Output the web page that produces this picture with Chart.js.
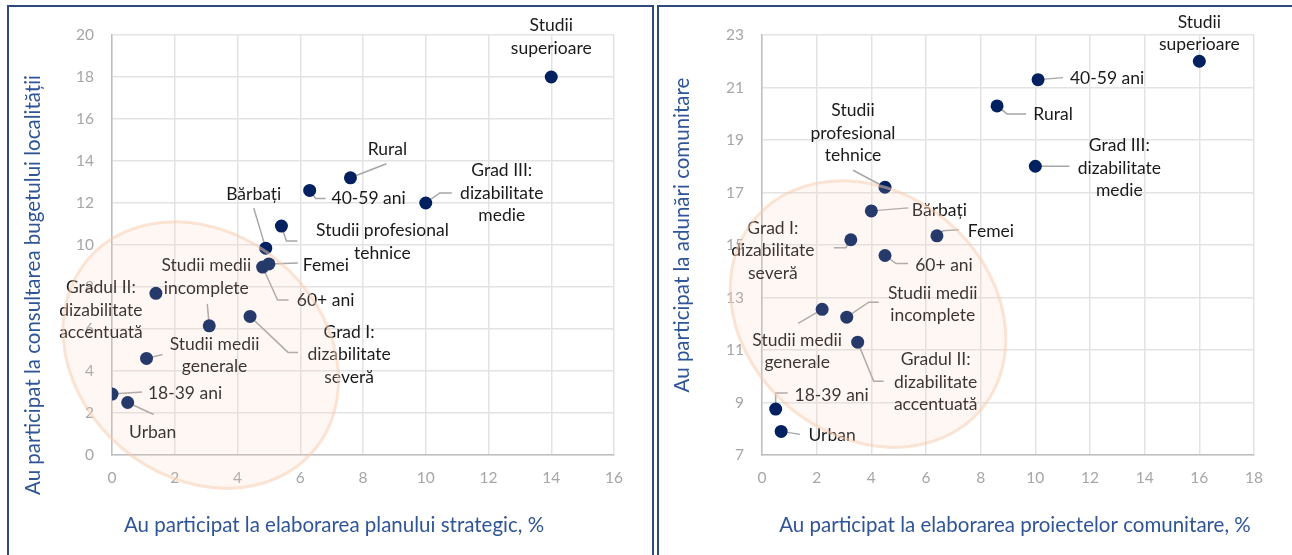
<!DOCTYPE html>
<html>
<head>
<meta charset="utf-8">
<script src="https://cdn.jsdelivr.net/npm/chart.js@4.4.1/dist/chart.umd.min.js"></script>
<style>
  html, body { margin: 0; padding: 0; background: #fff; }
  body { width: 1292px; height: 555px; position: relative; overflow: hidden; }
  .frame { position: absolute; border: 2px solid #2e4a7d; border-bottom: none; }
  #frame-a { left: 7px; top: 5px; width: 643px; height: 560px; }
  #frame-b { left: 657px; top: 5px; width: 660px; height: 560px; }
  canvas { position: absolute; top: 0; }
  #chart-a { left: 0; }
  #chart-b { left: 655px; }
</style>
</head>
<body>
<div class="frame" id="frame-a"></div>
<div class="frame" id="frame-b"></div>
<canvas id="chart-a" width="655" height="555"></canvas>
<canvas id="chart-b" width="637" height="555"></canvas>
<script>
const categories = [
  'Studii superioare', 'Rural', '40-59 ani', 'Grad III: dizabilitate medie',
  'Studii profesional tehnice', 'Bărbați', 'Femei', '60+ ani',
  'Studii medii incomplete', 'Grad I: dizabilitate severă',
  'Gradul II: dizabilitate accentuată', 'Studii medii generale', '18-39 ani', 'Urban'
];

// left chart: plan strategic (x) vs consultarea bugetului (y)
const planStrategic = [14, 7.6, 6.3, 10, 5.4, 4.9, 5.0, 4.8, 3.1, 4.4, 1.4, 1.1, 0, 0.5];
const consultareBuget = [18, 13.2, 12.6, 12, 10.9, 9.85, 9.1, 8.95, 6.15, 6.6, 7.7, 4.6, 2.9, 2.5];

// right chart: proiecte comunitare (x) vs adunări comunitare (y)
const proiecteComunitare = [16, 8.6, 10.1, 10, 4.5, 4.0, 6.4, 4.5, 3.1, 3.25, 3.5, 2.2, 0.5, 0.7];
const adunariComunitare = [22, 20.3, 21.3, 18, 17.2, 16.3, 15.35, 14.6, 12.25, 15.2, 11.3, 12.55, 8.75, 7.9];

const xTicksA = { min: 0, max: 16, step: 2 };
const yTicksA = { min: 0, max: 20, step: 2 };
const xTicksB = { min: 0, max: 18, step: 2 };
const yTicksB = { min: 7, max: 23, step: 2 };

const titlesA = {
  x: 'Au participat la elaborarea planului strategic, %',
  y: 'Au participat la consultarea bugetului localității',
};
const titlesB = {
  x: 'Au participat la elaborarea proiectelor comunitare, %',
  y: 'Au participat la adunări comunitare',
};

// label placement (offsets from the point, px) and leader elbows
const layoutA = [
  { lines: ['Studii', 'superioare'], at: [0, -40], leader: [] },
  { lines: ['Rural'], at: [37, -28], leader: [[36, -14]] },
  { lines: ['40-59 ani'], at: [59, 8], leader: [[6, 8], [16, 8]] },
  { lines: ['Grad III:', 'dizabilitate', 'medie'], at: [76, -10], leader: [[14, -10], [26, -10]] },
  { lines: ['Studii profesional', 'tehnice'], at: [101, 16], leader: [[5, 15], [16, 15]] },
  { lines: ['Bărbați'], at: [-12, -54], leader: [[-12, -40]] },
  { lines: ['Femei'], at: [57, 1], leader: [[29, -1]] },
  { lines: ['60+ ani'], at: [63, 33], leader: [[15, 33], [26, 33]] },
  { lines: ['Studii medii', 'incomplete'], at: [-3, -49], leader: [[-2, -22]] },
  { lines: ['Grad I:', 'dizabilitate', 'severă'], at: [99, 38], leader: [[38, 36], [48, 36]] },
  { lines: ['Gradul II:', 'dizabilitate', 'accentuată'], at: [-55, 17], leader: [] },
  { lines: ['Studii medii', 'generale'], at: [68, -3], leader: [[16, -4]] },
  { lines: ['18-39 ani'], at: [73, -1], leader: [[30, -2]] },
  { lines: ['Urban'], at: [25, 30], leader: [[26, 12]] },
];

const layoutB = [
  { lines: ['Studii', 'superioare'], at: [0, -28], leader: [] },
  { lines: ['Rural'], at: [56, 8], leader: [[10, 8], [29, 8]] },
  { lines: ['40-59 ani'], at: [69, -1], leader: [[25, -2]] },
  { lines: ['Grad III:', 'dizabilitate', 'medie'], at: [84, 2], leader: [[34, 0]] },
  { lines: ['Studii', 'profesional', 'tehnice'], at: [-32, -54], leader: [[-32, -17]] },
  { lines: ['Bărbați'], at: [68, -1], leader: [[37, -3]] },
  { lines: ['Femei'], at: [54, -4], leader: [[6, -5], [22, -6]] },
  { lines: ['60+ ani'], at: [59, 10], leader: [[11, 8], [23, 8]] },
  { lines: ['Studii medii', 'incomplete'], at: [86, -13], leader: [[22, -15], [32, -15]] },
  { lines: ['Grad I:', 'dizabilitate', 'severă'], at: [-78, 11], leader: [[-5, 8], [-17, 8]] },
  { lines: ['Gradul II:', 'dizabilitate', 'accentuată'], at: [78, 40], leader: [[16, 39], [26, 39]] },
  { lines: ['Studii medii', 'generale'], at: [-25, 42], leader: [[-24, 14]] },
  { lines: ['18-39 ani'], at: [56, -14], leader: [[0, -16], [12, -16]] },
  { lines: ['Urban'], at: [51, 4], leader: [[19, 3]] },
];

const FONT = 'Lato, "Open Sans", sans-serif';
const NAVY = '#002060';

function annotations(layout, titles, extra) {
  return {
    id: 'annotations',
    beforeDatasetsDraw(chart) {
      const ctx = chart.ctx;
      const pts = chart.getDatasetMeta(0).data;
      ctx.save();
      ctx.strokeStyle = '#a6a6a6';
      ctx.lineWidth = 1.5;
      layout.forEach((item, i) => {
        if (!item.leader.length) return;
        const p = pts[i];
        ctx.beginPath();
        ctx.moveTo(p.x, p.y);
        item.leader.forEach(([dx, dy]) => ctx.lineTo(p.x + dx, p.y + dy));
        ctx.stroke();
      });
      ctx.restore();
    },
    afterDatasetsDraw(chart) {
      const ctx = chart.ctx;
      const pts = chart.getDatasetMeta(0).data;
      ctx.save();
      ctx.fillStyle = '#1a1a1a';
      ctx.font = '17.5px ' + FONT;
      ctx.textAlign = 'center';
      ctx.textBaseline = 'middle';
      const lh = 22.5;
      layout.forEach((item, i) => {
        const p = pts[i];
        const cx = p.x + item.at[0];
        const cy = p.y + item.at[1];
        const n = item.lines.length;
        item.lines.forEach((line, k) => {
          ctx.fillText(line, cx, cy + (k - (n - 1) / 2) * lh);
        });
      });
      ctx.restore();
    },
    afterDraw(chart) {
      const ctx = chart.ctx;
      const { x, y } = chart.scales;

      // highlighted group
      const ex = x.getPixelForValue(extra.center[0]);
      const ey = y.getPixelForValue(extra.center[1]);
      ctx.save();
      ctx.beginPath();
      ctx.ellipse(ex, ey, 148, 122, 40 * Math.PI / 180, 0, Math.PI * 2);
      ctx.fillStyle = 'rgba(248, 203, 173, 0.15)';
      ctx.fill();
      ctx.strokeStyle = 'rgba(248, 203, 173, 0.5)';
      ctx.lineWidth = 3;
      ctx.stroke();
      ctx.restore();

      // axis titles
      ctx.save();
      ctx.fillStyle = '#2f5597';
      ctx.font = '20.5px ' + FONT;
      ctx.textAlign = 'center';
      ctx.textBaseline = 'middle';
      ctx.fillText(titles.x, extra.xTitle[0], extra.xTitle[1]);
      ctx.translate(extra.yTitle[0], extra.yTitle[1]);
      ctx.rotate(-Math.PI / 2);
      ctx.fillText(titles.y, 0, 0);
      ctx.restore();
    },
  };
}

function buildChart(canvas, xs, ys, xt, yt, padRight, axisWidth, layout, titles, extra) {
  const tickFont = { family: FONT, size: 15.5 };
  return new Chart(canvas, {
    type: 'scatter',
    data: {
      datasets: [{
        label: 'date',
        data: xs.map((v, i) => ({ x: v, y: ys[i] })),
        backgroundColor: NAVY,
        borderWidth: 0,
        pointRadius: 6.5,
      }],
    },
    options: {
      responsive: false,
      animation: false,
      layout: { padding: { left: 0, right: padRight, top: 35, bottom: 0 } },
      plugins: {
        legend: { display: false },
        tooltip: { enabled: false },
      },
      scales: {
        x: {
          type: 'linear',
          min: xt.min,
          max: xt.max,
          afterFit: (scale) => { scale.height = 100; },
          ticks: { stepSize: xt.step, color: '#a6a6a6', font: tickFont, padding: 14 },
          grid: { color: '#e3e3e3', lineWidth: 1.5, drawTicks: false },
          border: { color: '#bfbfbf', width: 1.5 },
        },
        y: {
          type: 'linear',
          min: yt.min,
          max: yt.max,
          afterFit: (scale) => { scale.width = axisWidth; },
          ticks: { stepSize: yt.step, color: '#a6a6a6', font: tickFont, padding: 18 },
          grid: { color: '#e3e3e3', lineWidth: 1.5, drawTicks: false },
          border: { color: '#bfbfbf', width: 1.5 },
        },
      },
    },
    plugins: [annotations(layout, titles, extra)],
  });
}

buildChart(
  document.getElementById('chart-a'),
  planStrategic, consultareBuget, xTicksA, yTicksA,
  41, 112, layoutA, titlesA,
  { center: [2.83, 4.76], xTitle: [334, 525], yTitle: [33, 285] }
);

buildChart(
  document.getElementById('chart-b'),
  proiecteComunitare, adunariComunitare, xTicksB, yTicksB,
  38, 107, layoutB, titlesB,
  { center: [3.88, 12.37], xTitle: [360, 525], yTitle: [27, 235] }
);
</script>
</body>
</html>
